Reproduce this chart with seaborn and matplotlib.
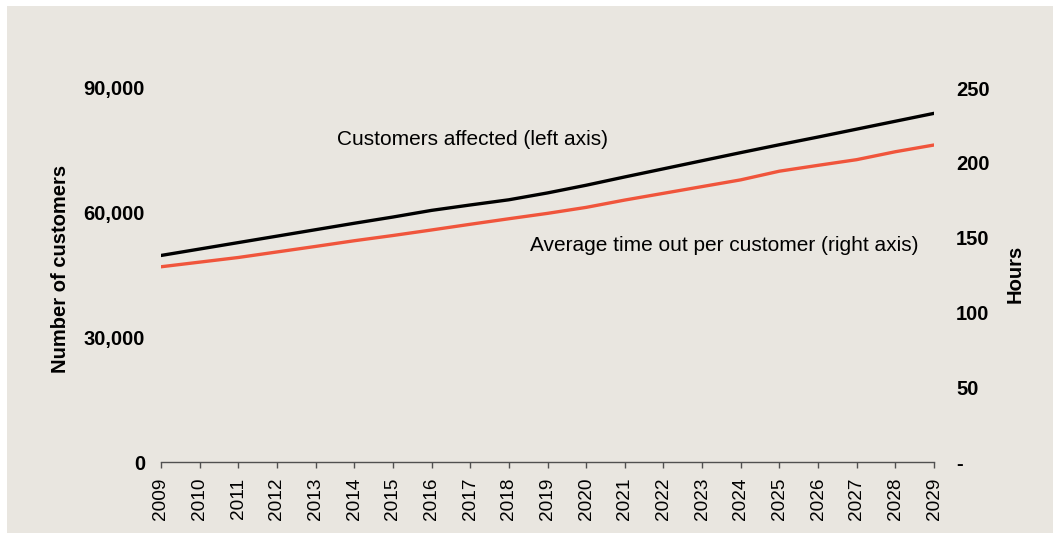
import matplotlib
matplotlib.use("Agg")
import matplotlib.pyplot as plt
import pandas as pd
import seaborn as sns
from matplotlib.patches import Rectangle
from matplotlib.ticker import FuncFormatter, FixedLocator

# Forecast series
years = list(range(2009, 2030))
customers_affected = [49700, 51250, 52800, 54350, 55900, 57450, 58950, 60550, 61850,
                      63100, 64750, 66600, 68600, 70550, 72500, 74450, 76350, 78200,
                      80100, 82000, 83900]
avg_hours_out = [130.5, 133.6, 136.7, 140.4, 144.1, 147.9, 151.4, 155.1, 158.9, 162.6,
                 166.2, 170.2, 175.1, 179.6, 184.1, 188.6, 194.4, 198.3, 202.1, 207.4,
                 211.9]

left_ticks = [0, 30000, 60000, 90000]
right_ticks = [0, 50, 100, 150, 200, 250]

left_label = "Number of customers"
right_label = "Hours"
customers_note = "Customers affected (left axis)"
hours_note = "Average time out per customer (right axis)"

BG = "#E9E6E0"
RED = "#F0553C"
SPINE = "#505050"

sns.set_theme(style="white")
plt.rcParams["font.family"] = ["Liberation Sans", "DejaVu Sans"]
plt.rcParams.update({"text.color": "black", "axes.labelcolor": "black",
                     "xtick.color": "black", "ytick.color": "black"})

df = pd.DataFrame({"year": years, "customers": customers_affected, "hours": avg_hours_out})

W, H = 1053, 533
fig = plt.figure(figsize=(W / 100, H / 100), dpi=100, facecolor="white")
fig.patches.append(Rectangle((7 / W, -0.01), 1, 1.01 - 6 / H, transform=fig.transFigure,
                             facecolor=BG, edgecolor="none", zorder=-10))

ax = fig.add_axes([161 / W, 1 - 462 / H, (934 - 161) / W, (462 - 88) / H])
ax.set_facecolor("none")
ax2 = ax.twinx()
ax2.set_facecolor("none")

sns.lineplot(data=df, x="year", y="customers", ax=ax, color="black", linewidth=2.4)
sns.lineplot(data=df, x="year", y="hours", ax=ax2, color=RED, linewidth=2.4)

ax.set_xlim(years[0], years[-1])
ax.set_ylim(left_ticks[0], left_ticks[-1])
ax2.set_ylim(right_ticks[0], right_ticks[-1])

ax.xaxis.set_major_locator(FixedLocator(years))
ax.set_xticklabels([str(y) for y in years])
ax.yaxis.set_major_locator(FixedLocator(left_ticks))
ax.yaxis.set_major_formatter(FuncFormatter(lambda v, p: f"{int(v):,}"))
ax2.yaxis.set_major_locator(FixedLocator(right_ticks))
ax2.yaxis.set_major_formatter(FuncFormatter(lambda v, p: "-" if v == 0 else f"{int(v)}"))

for a in (ax, ax2):
    for s in ("top", "left", "right"):
        a.spines[s].set_visible(False)
ax2.spines["bottom"].set_visible(False)
ax.spines["bottom"].set_color(SPINE)
ax.spines["bottom"].set_linewidth(1.0)

ax.tick_params(axis="x", bottom=True, length=4.5, width=1.0, color=SPINE, pad=7,
               labelrotation=90, labelsize=13.7, labelcolor="black")
ax.tick_params(axis="y", left=False, length=0, pad=11.5, labelsize=14.5, labelcolor="black")
ax2.tick_params(axis="y", right=False, length=0, pad=15.8, labelsize=14.5, labelcolor="black")
for lbl in ax.get_yticklabels() + ax2.get_yticklabels():
    lbl.set_fontweight("bold")

ax.set_xlabel("")
ax.set_ylabel(left_label, fontsize=14.5, fontweight="bold", color="black")
ax.yaxis.set_label_coords(-0.1177, 0.517)
ax2.set_ylabel(right_label, fontsize=14.5, fontweight="bold", color="black")
ax2.yaxis.set_label_coords(1.093, 0.503)

ax.text(2013.55, 77500, customers_note, fontsize=15, ha="left", va="center", color="black")
ax2.text(2018.55, 144.4, hours_note, fontsize=15, ha="left", va="center", color="black")

fig.savefig("out.png", dpi=100, facecolor=fig.get_facecolor())
